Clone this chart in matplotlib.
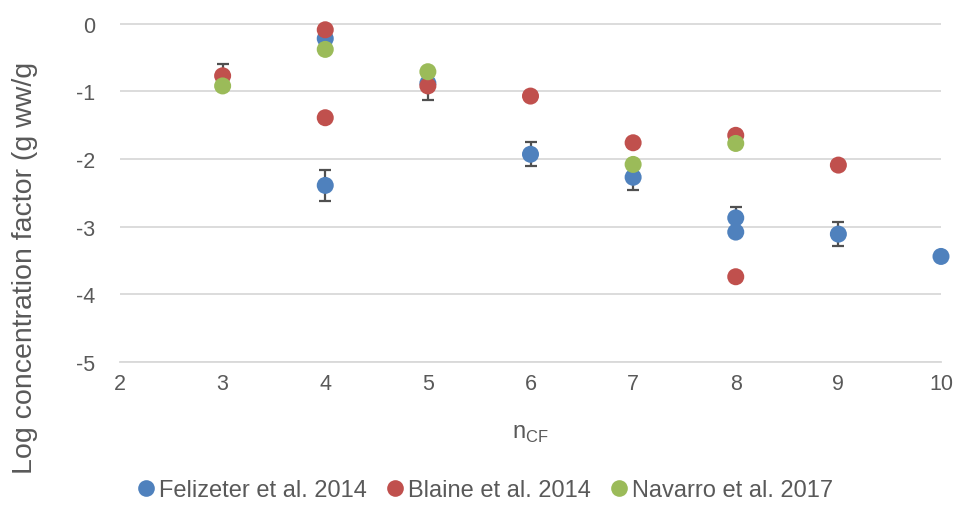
import matplotlib
matplotlib.use("Agg")
import matplotlib.pyplot as plt
from matplotlib.lines import Line2D

plt.rcParams['font.family'] = ['Liberation Sans', 'DejaVu Sans']
plt.rcParams['axes.unicode_minus'] = False

# Datos
felizeter_x = [4, 4, 5, 6, 7, 8, 8, 9, 10]
felizeter_y = [-0.22, -2.39, -0.88, -1.93, -2.27, -2.87, -3.08, -3.11, -3.44]
felizeter_err = [0, 0.23, 0, 0.18, 0.19, 0.16, 0, 0.18, 0]

blaine_x = [3, 4, 4, 5, 6, 7, 8, 8, 9]
blaine_y = [-0.77, -0.09, -1.39, -0.92, -1.07, -1.76, -1.65, -3.74, -2.09]
blaine_err = [0.17, 0, 0, 0.21, 0, 0, 0, 0, 0]

navarro_x = [3, 4, 5, 7, 8]
navarro_y = [-0.92, -0.38, -0.71, -2.08, -1.77]

etiquetas = ['Felizeter et al. 2014', 'Blaine et al. 2014', 'Navarro et al. 2017']
colores = ['#4F81BD', '#C0504D', '#9BBB59']

texto = '#595959'
rejilla = '#D9D9D9'

fig = plt.figure(figsize=(9.57, 5.06), dpi=100)
ax = fig.add_axes([120 / 957, 1 - 363 / 506, (941 - 120) / 957, (363 - 24) / 506])

series = [
    (felizeter_x, felizeter_y, felizeter_err),
    (blaine_x, blaine_y, blaine_err),
    (navarro_x, navarro_y, None),
]
z = 3
for (xs, ys, err), col in zip(series, colores):
    if err is not None:
        ax.errorbar(xs, ys, yerr=err, fmt='none', ecolor='#505050',
                    elinewidth=1.6, capsize=4.5, capthick=1.6, zorder=z)
    ax.scatter(xs, ys, s=150, color=col, edgecolors='none', zorder=z + 1,
               clip_on=False)
    z += 2

ax.set_xlim(2, 10)
ax.set_ylim(-5, 0.01)
ax.set_xticks(range(2, 11))
ax.set_yticks(range(-5, 1))
ax.grid(axis='y', color=rejilla, linewidth=1.3, zorder=0)
ax.set_axisbelow(True)
for s in ['top', 'right', 'left']:
    ax.spines[s].set_visible(False)
ax.spines['bottom'].set_color(rejilla)
ax.spines['bottom'].set_linewidth(1.3)
ax.tick_params(length=0, labelsize=15.5, labelcolor=texto)
ax.tick_params(axis='x', pad=8)
ax.tick_params(axis='y', pad=18)

fig.text(25 / 957, 1 - 268 / 506, 'Log concentration factor (g ww/g',
         rotation=90, ha='center', va='center', fontsize=20.5, color=texto)
fig.text(530 / 957, 1 - 434 / 506, r'n$_{\mathregular{CF}}$',
         ha='center', va='center', fontsize=17, color=texto)

manijas = [Line2D([], [], linestyle='none', marker='o', markersize=12,
                  color=c, markeredgewidth=0) for c in colores]
fig.legend(manijas, etiquetas, loc='center', bbox_to_anchor=(486 / 957, 1 - 491 / 506),
           ncol=3, frameon=False, fontsize=17, labelcolor=texto,
           handlelength=0.6, handletextpad=0.25, columnspacing=0.9, borderpad=0)

fig.savefig('out.png', dpi=100)
